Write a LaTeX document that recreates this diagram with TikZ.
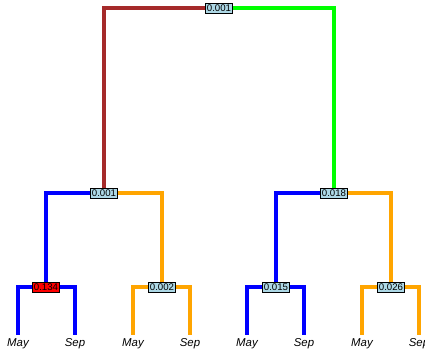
\documentclass[tikz,border=0pt]{standalone}
\usepackage{fontspec}
\setmainfont{Liberation Sans}
\definecolor{stembrown}{RGB}{165,42,42}
\definecolor{stemgreen}{RGB}{0,255,0}
\definecolor{stemblue}{RGB}{0,0,255}
\definecolor{stemorange}{RGB}{255,165,0}
\definecolor{boxblue}{RGB}{173,216,230}
\tikzset{
  pbox/.style={draw=black, line width=0.5pt, fill=boxblue, inner sep=0.8pt,
    minimum height=0.2cm, font=\fontsize{5.5}{6}\selectfont},
  leaf/.style={inner sep=1pt, anchor=base, text height=5pt, text depth=1pt,
    font=\fontsize{6.5}{7}\selectfont\itshape},
  edge/.style={line width=2pt}
}
\begin{document}
\begin{tikzpicture}[x=0.02cm, y=-0.02cm]
	\useasboundingbox (0,0) rectangle (425,353);
	% split nodes
	\node[pbox] (root) at (219,8) {0.001};
	\node[pbox] (l) at (104,193) {0.001};
	\node[pbox] (r) at (334,193) {0.018};
	\node[pbox, fill=red] (ll) at (46,287) {0.134};
	\node[pbox] (lr) at (162,287) {0.002};
	\node[pbox] (rl) at (276,287) {0.015};
	\node[pbox] (rr) at (391,287) {0.026};
	% leaves
	\foreach \n/\x in {ll/18,lr/133,rl/247,rr/362}
	  {
	      \node[leaf] (\n may) at (\x,346) {May};
	      \node[leaf] (\n sep) at (\x+57,346) {Sep};
	  }
	  \draw [edge, stembrown] (root.west) -| (l.north);
	  \draw [edge, stemgreen] (root.east) -| (r.north);

	  \draw [edge, stemblue] (l.west) -| (ll.north);
	  \draw [edge, stemorange] (l.east) -| (lr.north);
	  \draw [edge, stemblue] (r.west) -| (rl.north);
	  \draw [edge, stemorange] (r.east) -| (rr.north);

	  \draw [edge, stemblue] (ll.west) -| (llmay.north);
	  \draw [edge, stemblue] (ll.east) -| (llsep.north);
	  \draw [edge, stemorange] (lr.west) -| (lrmay.north);
	  \draw [edge, stemorange] (lr.east) -| (lrsep.north);
	  \draw [edge, stemblue] (rl.west) -| (rlmay.north);
	  \draw [edge, stemblue] (rl.east) -| (rlsep.north);
	  \draw [edge, stemorange] (rr.west) -| (rrmay.north);
	  \draw [edge, stemorange] (rr.east) -| (rrsep.north);
\end{tikzpicture}
\end{document}
